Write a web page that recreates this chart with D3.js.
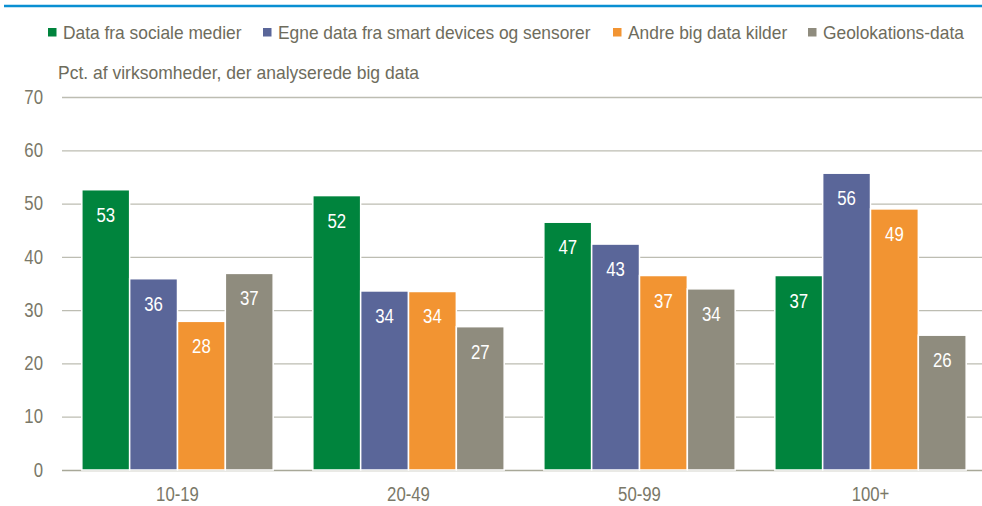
<!DOCTYPE html>
<html><head><meta charset="utf-8">
<script src="https://cdn.jsdelivr.net/npm/d3@7/dist/d3.min.js"></script>
<style>
body{margin:0;background:#fff;}
svg text{font-family:"Liberation Sans",Arial,sans-serif;}
</style></head>
<body><svg id="c" width="982" height="506"></svg>
<script>
const categories = ["10-19","20-49","50-99","100+"];
const seriesNames = ["Data fra sociale medier","Egne data fra smart devices og sensorer","Andre big data kilder","Geolokations-data"];
const social = [52.6, 51.5, 46.5, 36.5];
const devices = [35.9, 33.6, 42.4, 55.7];
const other = [27.9, 33.5, 36.5, 49.0];
const geo = [36.9, 26.9, 34.0, 25.3];
const labelsSocial = [53, 52, 47, 37];
const labelsDevices = [36, 34, 43, 56];
const labelsOther = [28, 34, 37, 49];
const labelsGeo = [37, 27, 34, 26];
const yTicks = [0,10,20,30,40,50,60,70];
const colors = ["#00843d","#5a6699","#f29432","#8f8c7e"];
const subtitle = "Pct. af virksomheder, der analyserede big data";

const series = [social, devices, other, geo];
const labels = [labelsSocial, labelsDevices, labelsOther, labelsGeo];

const svg = d3.select("#c");
const x0 = d3.scaleBand().domain(categories).range([62, 986]).paddingInner(0.1716).paddingOuter(0.0858);
const x1 = d3.scaleBand().domain(d3.range(4)).range([0, x0.bandwidth()]);
const y = d3.scaleLinear().domain([0,70]).range([470, 97]);

// top blue rule
svg.append("line").attr("x1",4).attr("x2",982).attr("y1",6).attr("y2",6)
  .attr("stroke","#0a8fd2").attr("stroke-width",2.5);

// gridlines
svg.append("g").selectAll("line").data(yTicks).join("line")
  .attr("x1",62).attr("x2",982)
  .attr("y1",d=>y(d)+0.5).attr("y2",d=>y(d)+0.5)
  .attr("stroke",d=>d===0?"#a8a898":"#bdbdb2").attr("stroke-width",1.3);

// y tick labels
const yAxis = d3.axisLeft(y).tickValues(yTicks).tickSize(0).tickPadding(0);
const ga = svg.append("g").attr("transform","translate(43,0)").call(yAxis);
ga.select(".domain").remove();
ga.selectAll("text").attr("fill","#7a7868").style("font-size","19.5px")
  .style("font-family",'"Liberation Sans",Arial,sans-serif')
  .attr("transform","scale(0.86,1)");

// x labels
const xAxis = d3.axisBottom(x0).tickSize(0).tickPadding(0);
const gx = svg.append("g").attr("transform","translate(0,487)").call(xAxis);
gx.select(".domain").remove();
gx.selectAll("text").attr("fill","#7a7868").style("font-size","19.5px")
  .style("font-family",'"Liberation Sans",Arial,sans-serif')
  .attr("transform","scale(0.86,1)");

// bars
const groups = svg.append("g").selectAll("g").data(categories).join("g")
  .attr("transform",d=>`translate(${x0(d)},0)`);
groups.each(function(cat, ci){
  const g = d3.select(this);
  series.forEach((s, si)=>{
    g.append("rect").attr("x", x1(si)).attr("width", x1.bandwidth())
      .attr("y", y(s[ci])).attr("height", y(0)-y(s[ci]))
      .attr("fill", colors[si]).attr("stroke","#fff").attr("stroke-width",1.5);
    g.append("text")
      .attr("transform", `translate(${x1(si)+x1.bandwidth()/2},${y(s[ci])+32}) scale(0.8,1)`)
      .attr("text-anchor","middle").attr("fill","#fff").style("font-size","21px")
      .text(labels[si][ci]);
  });
});

// legend
const legX = [48, 263, 613, 808];
const leg = svg.append("g").selectAll("g").data(seriesNames).join("g")
  .attr("transform",(d,i)=>`translate(${legX[i]},0)`);
leg.append("rect").attr("x",0).attr("y",28).attr("width",8.5).attr("height",8.5)
  .attr("fill",(d,i)=>colors[i]);
leg.append("text").attr("transform","translate(15,38.5) scale(0.965,1)").attr("fill","#6e6c5c")
  .style("font-size","18px").text(d=>d);

svg.append("text").attr("transform","translate(58,79) scale(0.973,1)").attr("fill","#6e6c5c")
  .style("font-size","18px").text(subtitle);
</script></body></html>
